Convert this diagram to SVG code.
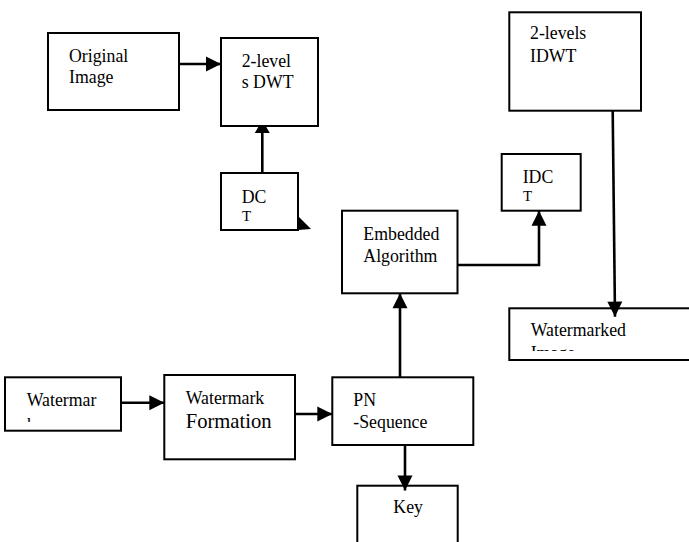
<svg xmlns="http://www.w3.org/2000/svg" width="689" height="542" viewBox="0 0 689 542">
<defs>
<style>
.box{fill:#fff;stroke:#000;stroke-width:2}
.t{font-family:"Liberation Serif","Times New Roman",serif;font-size:17.8px;fill:#000}
.big{font-size:20.6px}
.small{font-size:15px}
.c{fill:none;stroke:#000;stroke-width:2.6}
</style>
<marker id="ah" markerUnits="userSpaceOnUse" markerWidth="16" markerHeight="16" refX="15" refY="7.5" orient="auto" overflow="visible">
<path d="M0,0 L15,7.5 L0,15 Z" fill="#000"/>
</marker>
<marker id="ahs" markerUnits="userSpaceOnUse" markerWidth="16" markerHeight="16" refX="6" refY="7.5" orient="auto" overflow="visible">
<path d="M0,0 L6,3.5 L6,11.5 L0,15 Z" fill="#000"/>
</marker>
<clipPath id="clipWm"><rect x="509" y="300" width="180" height="51"/></clipPath>
<clipPath id="clipW"><rect x="0" y="370" width="130" height="52"/></clipPath>
</defs>
<rect width="689" height="542" fill="#fff"/>

<g id="original">
<rect class="box" x="48" y="33" width="131" height="77"/>
<text class="t" x="69" y="62">Original</text>
<text class="t" x="69" y="83">Image</text>
</g>
<g id="dwt">
<rect class="box" x="221" y="38" width="97" height="88"/>
<text class="t" x="241.7" y="66.7">2-level</text>
<text class="t" x="241.7" y="87.7">s DWT</text>
</g>
<g id="dct">
<rect class="box" x="221" y="173" width="77" height="57"/>
<text class="t" x="241.7" y="203">DC</text>
<text class="t small" x="242" y="221">T</text>
<polygon points="298,216 311,229 298,230" fill="#000"/>
</g>
<g id="idwt">
<rect class="box" x="509.3" y="12.3" width="131.7" height="98.4"/>
<text class="t" x="530" y="39.3">2-levels</text>
<text class="t" x="530" y="61.7">IDWT</text>
</g>
<g id="idct">
<rect class="box" x="501.7" y="154" width="79" height="56.7"/>
<text class="t" x="522.7" y="183">IDC</text>
<text class="t small" x="523" y="200.5">T</text>
</g>
<g id="embedded">
<rect class="box" x="342" y="210.7" width="115.5" height="82.6"/>
<text class="t" x="363.3" y="240">Embedded</text>
<text class="t" x="363.3" y="262">Algorithm</text>
</g>
<g id="watermarked">
<rect class="box" x="509.3" y="308.3" width="200" height="51.7"/>
<text class="t" x="530.7" y="336">Watermarked</text>
<text class="t" x="530.7" y="358.7" clip-path="url(#clipWm)">Image</text>
</g>
<g id="watermark">
<rect class="box" x="5" y="377.3" width="116" height="53.4"/>
<text class="t" x="26.7" y="406">Watermar</text>
<text class="t" x="26.7" y="430.5" clip-path="url(#clipW)">k</text>
</g>
<g id="formation">
<rect class="box" x="164.3" y="375" width="130.7" height="84.3"/>
<text class="t" x="185.7" y="404">Watermark</text>
<text class="t big" x="185.7" y="428.3">Formation</text>
</g>
<g id="pn">
<rect class="box" x="332.3" y="377.3" width="141" height="67.7"/>
<text class="t" x="353.3" y="406">PN</text>
<text class="t" x="353.3" y="427.7">-Sequence</text>
</g>
<g id="key">
<rect class="box" x="357.3" y="485.7" width="100.4" height="70"/>
<text class="t" x="393.3" y="513.3">Key</text>
</g>

<g id="connectors">
<line class="c" x1="179" y1="64" x2="221" y2="64" marker-end="url(#ah)"/>
<line class="c" x1="262.3" y1="173" x2="262.3" y2="127" marker-end="url(#ahs)"/>
<path class="c" d="M457.5,265 H539 V210.7" marker-end="url(#ah)"/>
<line class="c" x1="400" y1="377.3" x2="400" y2="293.3" marker-end="url(#ah)"/>
<line class="c" x1="612.7" y1="110.7" x2="615" y2="316.7" marker-end="url(#ah)"/>
<line class="c" x1="121" y1="402.7" x2="164.3" y2="402.7" marker-end="url(#ah)"/>
<line class="c" x1="295" y1="414" x2="332.3" y2="414" marker-end="url(#ah)"/>
<line class="c" x1="405" y1="445" x2="405" y2="490.5" marker-end="url(#ah)"/>
</g>
</svg>
